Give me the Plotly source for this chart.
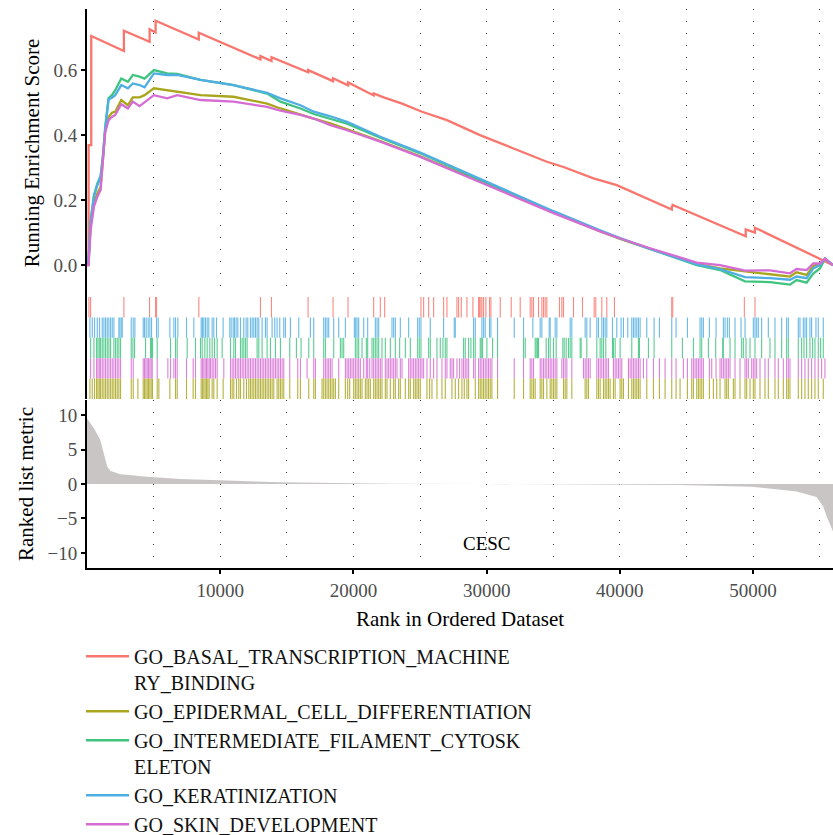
import plotly.graph_objects as go

N_GENES = 56000
SET_NAMES = [
    "GO_BASAL_TRANSCRIPTION_MACHINERY_BINDING",
    "GO_EPIDERMAL_CELL_DIFFERENTIATION",
    "GO_INTERMEDIATE_FILAMENT_CYTOSKELETON",
    "GO_KERATINIZATION",
    "GO_SKIN_DEVELOPMENT",
]
LEGEND_LABELS = [
    "GO_BASAL_TRANSCRIPTION_MACHINE<br>RY_BINDING",
    "GO_EPIDERMAL_CELL_DIFFERENTIATION",
    "GO_INTERMEDIATE_FILAMENT_CYTOSK<br>ELETON",
    "GO_KERATINIZATION",
    "GO_SKIN_DEVELOPMENT",
]
COLORS = ["#F8766D", "#A9A51C", "#3FC47F", "#4FAEE2", "#D46CD3"]

# ---- running enrichment score (rank, ES) ----
basal_rank = [1, 120, 120, 320, 320, 2770, 2770, 4700, 4700, 5150, 5150, 8390, 8390,
              13020, 13020, 13850, 13850, 16600, 16600, 18470, 18470, 19600, 19600,
              21520, 21520, 22270, 23650, 25150, 27020, 29500, 32020, 34520, 35770,
              38020, 39770, 42270, 43900, 43900, 43970, 43970, 45980, 49450, 49450,
              50140, 50140, 56000]
basal_es = [0.0, 0.0, 0.369, 0.369, 0.705, 0.659, 0.721, 0.687, 0.726, 0.716, 0.752, 0.694, 0.715,
            0.633, 0.643, 0.628, 0.640, 0.593, 0.600, 0.566, 0.575, 0.553, 0.562,
            0.522, 0.528, 0.516, 0.497, 0.472, 0.446, 0.400, 0.359, 0.318, 0.302,
            0.267, 0.246, 0.200, 0.171, 0.182, 0.180, 0.185, 0.149, 0.089, 0.110,
            0.100, 0.115, 0.0]

common_rank = [1, 120, 270, 520, 770, 1020, 1190, 1370, 1620, 1870, 2120, 2570, 3070, 3440,
               3945, 4320, 5020, 6020, 6770, 8520, 11000, 13520, 14520, 16020, 17020, 18270,
               19520, 22020, 25020, 29520, 35020, 38520, 40020, 42270, 45770, 47520, 49400,
               51270, 52770, 53270, 54020, 54520, 55020, 55400, 56000]
epidermal_es = [0.0, 0.01, 0.12, 0.19, 0.22, 0.24, 0.32, 0.416, 0.456, 0.469, 0.472, 0.508, 0.492, 0.516,
                0.516, 0.523, 0.544, 0.538, 0.535, 0.523, 0.518, 0.497, 0.482, 0.462, 0.451, 0.436,
                0.418, 0.382, 0.335, 0.257, 0.162, 0.104, 0.081, 0.050, 0.004, -0.010, -0.020,
                -0.028, -0.035, -0.022, -0.030, -0.002, 0.003, 0.020, 0.0]
filament_es = [0.0, 0.02, 0.138, 0.215, 0.251, 0.274, 0.333, 0.426, 0.513, 0.523, 0.538, 0.574, 0.564, 0.585,
               0.580, 0.574, 0.600, 0.590, 0.588, 0.570, 0.554, 0.528, 0.503, 0.482, 0.465, 0.450,
               0.435, 0.392, 0.344, 0.262, 0.164, 0.105, 0.082, 0.050, 0.000, -0.015, -0.050,
               -0.052, -0.060, -0.046, -0.054, -0.026, -0.010, 0.020, 0.0]
kerat_es = [0.0, 0.02, 0.13, 0.21, 0.245, 0.27, 0.33, 0.42, 0.510, 0.515, 0.523, 0.554, 0.544, 0.559,
            0.554, 0.547, 0.590, 0.585, 0.585, 0.570, 0.554, 0.530, 0.513, 0.492, 0.472, 0.458,
            0.441, 0.395, 0.346, 0.265, 0.166, 0.107, 0.083, 0.050, 0.002, -0.012, -0.037,
            -0.040, -0.045, -0.035, -0.040, -0.010, 0.000, 0.020, 0.0]
skin_es = [0.0, 0.0, 0.108, 0.18, 0.21, 0.231, 0.323, 0.41, 0.446, 0.456, 0.462, 0.495, 0.482, 0.503,
           0.489, 0.500, 0.523, 0.513, 0.523, 0.508, 0.503, 0.487, 0.475, 0.462, 0.451, 0.431,
           0.415, 0.380, 0.333, 0.255, 0.160, 0.104, 0.082, 0.052, 0.008, 0.000, -0.017,
           -0.016, -0.025, -0.012, -0.015, 0.005, 0.005, 0.020, 0.0]

ES_X = [basal_rank, common_rank, common_rank, common_rank, common_rank]
ES_Y = [basal_es, epidermal_es, filament_es, kerat_es, skin_es]

# ---- gene-set hit positions (ranks) ----
basal_hits = [145, 270, 2770, 4695, 5145, 5220, 8395, 13020, 13845, 16595, 18470, 19595, 21520,
              22020, 22345, 25070, 25270, 25645, 26020, 26770, 27020, 27770, 27895, 28095, 28520,
              28970, 29395, 29470, 29570, 29645, 29770, 29945, 30220, 30320, 31020, 31845, 32520,
              33270, 33395, 33520, 33895, 34145, 34270, 34395, 34520, 35470, 35645, 35770, 36520,
              37195, 38070, 38195, 38645, 39020, 39595, 43895, 43970, 49345, 50145]
kerat_hits = [220, 395, 570, 770, 945, 1145, 1270, 1395, 1520, 1645, 1770, 1895, 2020, 2395, 2470,
              2570, 2645, 3320, 3470, 3595, 4220, 4320, 4445, 4595, 4720, 4845, 5220, 5345, 6220,
              6520, 6645, 6820, 7470, 8020, 8570, 8670, 8770, 8895, 9020, 9145, 9395, 9520, 9720,
              10220, 10720, 10820, 10970, 11070, 11195, 11320, 11520, 11770, 11945, 12070, 12270,
              12395, 12520, 12645, 12770, 12895, 13145, 13395, 13520, 13895, 14095, 14270, 14470,
              14770, 14895, 15270, 15895, 16770, 17020, 17770, 17895, 18020, 18145, 18520, 18895,
              19395, 20070, 20170, 20270, 20395, 20770, 21070, 21645, 21770, 21895, 22895, 23020,
              23145, 23520, 24145, 24820, 24945, 25070, 25770, 26770, 27570, 27645, 29020, 29145,
              29645, 29770, 29895, 30220, 30320, 30820, 32070, 32770, 33470, 34020, 34145, 34695,
              34770, 35145, 35270, 36270, 36395, 37395, 37520, 37770, 38270, 38395, 38645, 38770,
              38895, 39020, 39445, 39770, 40095, 40270, 40595, 40895, 41020, 41145, 41270, 41395,
              41520, 42020, 42570, 42970, 43895, 44220, 45070, 46020, 46145, 46270, 46720, 47220,
              47770, 47895, 48070, 48220, 48645, 49095, 49395, 50020, 50145, 50270, 50395, 50645,
              51145, 51645, 52145, 52520, 52645, 53395, 53520, 53770, 53895, 54020, 54270, 54395,
              54720, 54895, 55270]
filament_hits = [270, 520, 720, 820, 920, 1020, 1145, 1270, 1395, 1520, 1645, 1770, 2020, 2145, 2270,
                 2395, 2520, 3320, 3445, 3570, 4395, 4770, 4845, 4920, 5270, 6270, 6645, 6770, 7520,
                 8145, 8520, 8645, 8845, 9020, 9220, 9395, 9570, 9770, 10145, 10770, 11020, 11145,
                 11520, 11645, 11770, 11895, 12020, 12770, 12895, 13145, 13520, 13770, 14145, 14520,
                 15220, 15720, 16070, 16645, 17020, 17770, 17895, 18520, 19020, 19145, 19270, 20145,
                 20270, 20395, 20645, 20970, 21070, 21395, 21520, 21645, 21770, 21895, 22145, 22395,
                 22770, 23145, 23470, 23895, 24270, 24820, 24945, 25070, 25645, 25770, 26270, 26520,
                 26720, 26895, 27020, 28270, 28395, 28645, 28820, 29020, 29145, 29520, 29595, 29695,
                 30020, 30445, 30820, 32770, 32895, 33645, 33720, 33820, 33895, 34470, 34645, 34770,
                 35020, 35220, 35720, 35820, 35970, 36145, 36270, 36395, 37020, 37095, 37520, 38270,
                 38520, 38645, 38770, 38945, 39445, 39520, 39645, 40020, 40895, 41395, 41470, 42145,
                 42570, 43895, 44695, 45520, 46020, 46145, 46645, 47195, 47720, 47770, 48270, 48645,
                 49145, 49270, 49470, 49770, 50145, 50645, 51270, 51645, 52145, 52520, 52645, 53395,
                 53645, 53820, 54020, 54270, 54470, 54645, 54895, 55070, 55270]
skin_hits = [270, 520, 720, 820, 920, 1020, 1145, 1270, 1395, 1520, 1645, 1770, 1895, 2020, 2145,
             2270, 2395, 2520, 3320, 3470, 4220, 4320, 4420, 4520, 4620, 4720, 4820, 4895, 5270,
             6070, 6270, 6520, 6645, 6770, 7470, 7970, 8145, 8570, 8670, 8770, 8870, 8970, 9070,
             9170, 9270, 9395, 9520, 9645, 9770, 10270, 10770, 10895, 11020, 11145, 11270, 11395,
             11520, 11645, 11770, 11895, 12020, 12145, 12270, 12395, 12520, 12645, 12770, 12895,
             13020, 13145, 13270, 13395, 13520, 13645, 13770, 13895, 14020, 14145, 14270, 14395,
             14520, 14645, 14770, 15220, 15820, 16020, 16520, 17020, 17145, 17770, 17895, 18020,
             18145, 18270, 18395, 18895, 19395, 19520, 19645, 19770, 19895, 20020, 20145, 20270,
             20395, 20520, 20770, 20970, 21070, 21220, 21395, 21520, 21645, 21770, 21895, 22020,
             22145, 22395, 22520, 22645, 22770, 22895, 23020, 23145, 23270, 23520, 23645, 24145,
             24270, 24395, 24520, 24645, 24770, 24895, 25020, 25145, 25270, 25520, 25770, 26020,
             26270, 26645, 26895, 27020, 27270, 27395, 27520, 27770, 27970, 28145, 28270, 28395,
             28520, 28645, 29020, 29145, 29395, 29520, 29645, 29770, 29895, 30020, 30145, 30270,
             30395, 30820, 32070, 32770, 33270, 33395, 33520, 34020, 34145, 34270, 34395, 34520,
             34645, 34770, 34895, 35020, 35145, 35270, 35645, 35770, 35895, 36020, 36395, 37270,
             37395, 37520, 37645, 37770, 38270, 38395, 38520, 38645, 38770, 38895, 39020, 39145,
             39520, 39645, 39770, 39895, 40020, 40145, 40645, 40770, 40895, 41020, 41145, 41270,
             41395, 41520, 41770, 42020, 42520, 42970, 43395, 43895, 44220, 44770, 45070, 45395,
             45520, 45645, 45770, 45895, 46020, 46145, 46270, 46720, 46895, 47220, 47520, 47645,
             47770, 47895, 48020, 48145, 48270, 48645, 49020, 49395, 49520, 49645, 49895, 50020,
             50145, 50270, 50520, 50895, 51145, 51645, 51895, 52270, 52520, 52645, 52770, 53395,
             53645, 53895, 54145, 54395, 54645, 54895, 55145, 55395]
epidermal_hits = [220, 395, 570, 720, 820, 920, 1020, 1145, 1270, 1395, 1520, 1645, 1770, 1895, 2020,
                  2145, 2270, 2395, 2520, 3320, 3470, 3820, 4220, 4320, 4420, 4520, 4620, 4720, 4820,
                  4920, 5270, 5395, 6220, 6645, 6770, 7470, 7970, 8145, 8570, 8670, 8770, 8870, 8970,
                  9070, 9170, 9395, 9520, 9770, 10220, 10770, 10895, 11020, 11220, 11395, 11520,
                  11770, 11970, 12145, 12270, 12395, 12520, 12645, 12770, 12895, 13020, 13145, 13270,
                  13395, 13520, 13645, 13770, 13895, 14020, 14270, 14395, 14520, 14645, 14770, 15220,
                  15820, 16020, 16645, 17020, 17145, 17645, 17770, 17895, 18020, 18145, 18270, 18395,
                  18520, 18645, 18895, 19395, 19570, 19720, 20020, 20145, 20270, 20395, 20520, 20645,
                  20895, 21020, 21145, 21270, 21520, 21645, 21770, 21895, 22020, 22145, 22395, 22520,
                  22770, 23020, 23145, 23395, 23520, 23895, 24145, 24270, 24520, 24645, 24770, 24895,
                  25020, 25520, 25720, 25895, 26270, 26645, 26895, 27395, 27645, 27895, 28145, 28320,
                  28520, 28645, 29145, 29395, 29520, 29645, 29770, 29895, 30020, 30145, 30270, 30395,
                  30820, 32070, 32770, 33270, 33395, 33520, 33645, 34020, 34145, 34270, 34520, 34770,
                  34895, 35020, 35145, 35270, 35770, 35895, 36020, 36395, 37395, 37520, 37645, 38270,
                  38395, 38520, 38770, 38895, 39020, 39145, 39270, 39520, 39645, 40020, 40145, 40270,
                  40645, 40895, 41020, 41145, 41270, 41395, 41520, 42020, 42520, 42970, 43395, 43895,
                  44220, 44520, 45070, 45395, 45520, 45770, 45895, 46020, 46145, 46270, 46720, 47020,
                  47270, 47520, 47895, 48020, 48145, 48520, 48645, 49020, 49395, 49520, 49770, 50020,
                  50145, 50520, 50895, 51145, 51645, 51895, 52270, 52520, 52645, 52770, 53395, 53645,
                  53895, 54145, 54395, 54645, 54895, 55270]

# rug rows from top to bottom: basal, keratinization, filament, skin, epidermal
RUG_SETS = [basal_hits, kerat_hits, filament_hits, skin_hits, epidermal_hits]
RUG_COLORS = [COLORS[0], COLORS[3], COLORS[2], COLORS[4], COLORS[1]]

# ---- ranked list metric ----
metric_rank = [1, 520, 1000, 1270, 1520, 1770, 2520, 4520, 7000, 10000, 14500, 20000, 23000,
               30000, 38000, 44520, 49900, 53270, 54770, 55270, 55520, 56000]
metric_val = [9.5, 8.1, 6.4, 4.5, 2.5, 1.9, 1.4, 1.06, 0.72, 0.53, 0.25, 0.1, 0.03,
              0.0, -0.05, -0.15, -0.4, -1.1, -1.9, -3.3, -4.7, -6.9]

X_TICKS = [10000, 20000, 30000, 40000, 50000]

FONT = "'Liberation Serif', 'Times New Roman', 'DejaVu Serif', serif"
fig = go.Figure()

# ES curves (top panel)
for name, lab, xs, ys, col in zip(SET_NAMES, LEGEND_LABELS, ES_X, ES_Y, COLORS):
    fig.add_trace(go.Scatter(x=xs, y=ys, mode="lines", name=lab,
                             line=dict(color=col, width=2.3),
                             xaxis="x", yaxis="y"))

# rug (middle panel)
n_rows = len(RUG_SETS)
for i, (hits, col) in enumerate(zip(RUG_SETS, RUG_COLORS)):
    top = n_rows - i
    bot = top - 1
    xs, ys = [], []
    for h in hits:
        xs += [h, h, None]
        ys += [bot, top, None]
    fig.add_trace(go.Scatter(x=xs, y=ys, mode="lines", showlegend=False,
                             line=dict(color=col, width=1.1), opacity=0.85,
                             hoverinfo="skip", xaxis="x2", yaxis="y2"))

# ranked list metric (bottom panel)
fig.add_trace(go.Scatter(x=metric_rank, y=metric_val, mode="lines", fill="tozeroy",
                         fillcolor="#C9C5C5", line=dict(color="#C9C5C5", width=0),
                         showlegend=False, xaxis="x3", yaxis="y3"))

grid = dict(showgrid=True, gridcolor="#333333", gridwidth=1, griddash="1px,11px")
xcommon = dict(range=[0, N_GENES], zeroline=False, tickvals=X_TICKS, tickformat="d")
tickfont = dict(size=19, color="#4D4D4D", family=FONT)
titlefont = dict(size=21, color="black", family=FONT)

fig.update_layout(
    width=833, height=835,
    margin=dict(l=87, r=0, t=9, b=267, autoexpand=False),
    paper_bgcolor="white", plot_bgcolor="white",
    font=dict(family=FONT, color="black", size=18),
    xaxis=dict(domain=[0, 1], anchor="y", showticklabels=False, ticks="",
               minor=dict(dtick=5000, tick0=0, **grid), **grid, **xcommon),
    yaxis=dict(domain=[0.4848, 1], range=[-0.098, 0.788], tickvals=[0, 0.2, 0.4, 0.6],
               tickformat=".1f", showgrid=False, zeroline=False,
               showline=True, linecolor="black", linewidth=2,
               ticks="outside", ticklen=4, tickcolor="black", tickwidth=1.5,
               tickfont=tickfont,
               title=dict(text="Running Enrichment Score", font=titlefont, standoff=8)),
    xaxis2=dict(domain=[0, 1], anchor="y2", matches="x", showticklabels=False, ticks="",
                showgrid=False, **xcommon),
    yaxis2=dict(domain=[0.3023, 0.4848], range=[0, n_rows], showgrid=False, zeroline=False,
                showticklabels=False, ticks="", showline=True, linecolor="black", linewidth=2),
    xaxis3=dict(domain=[0, 1], anchor="y3", matches="x", showline=True, linecolor="black",
                linewidth=2, ticks="outside", ticklen=4, tickcolor="black", tickwidth=1.5,
                tickfont=tickfont,
                minor=dict(dtick=5000, tick0=0, **grid), **grid, **xcommon,
                title=dict(text="Rank in Ordered Dataset", font=titlefont, standoff=12)),
    yaxis3=dict(domain=[0, 0.3005], range=[-12.2, 12.2], tickvals=[-10, -5, 0, 5, 10],
                showgrid=False, zeroline=False, showline=True, linecolor="black", linewidth=2,
                ticks="outside", ticklen=4, tickcolor="black", tickwidth=1.5,
                tickfont=tickfont,
                title=dict(text="Ranked list metric", font=titlefont, standoff=8)),
    legend=dict(x=-0.008, xanchor="left", y=-0.123, yanchor="top", orientation="v",
                font=dict(size=20, family=FONT, color="#111111"), valign="top",
                tracegroupgap=0, itemwidth=43, bgcolor="rgba(0,0,0,0)"),
    annotations=[dict(x=30000, y=-8.6, xref="x3", yref="y3", text="CESC", showarrow=False,
                      font=dict(size=19, color="black", family=FONT))],
)

fig.write_html("out.html")
